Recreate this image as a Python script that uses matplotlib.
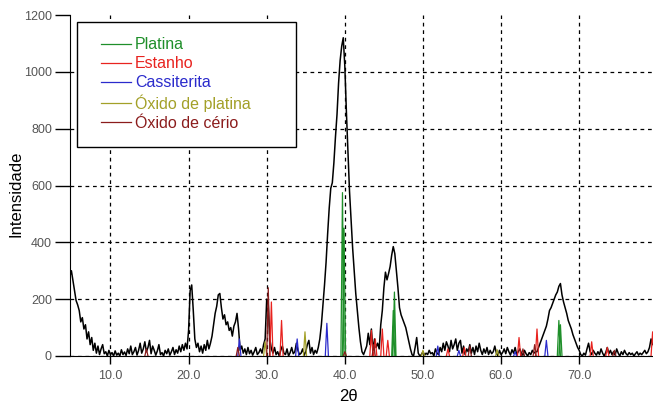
import matplotlib
matplotlib.use("Agg")
import matplotlib.pyplot as plt
import numpy as np
from matplotlib.patches import Rectangle

plt.rcParams["font.family"] = ["Liberation Sans", "DejaVu Sans"]

# measured diffractogram, 0.2 deg steps starting at 4.8
X_START = 4.8
X_STEP = 0.2
intensity = [
    280, 300, 265, 230, 195, 180,                        # 4.8 - 5.8
    160, 120, 135, 95, 110, 60, 85, 40, 65, 20,          # 6
    45, 10, 35, 5, 25, 40, 8, 15, 0, 20,                 # 8
    5, 12, 0, 18, 3, 10, 0, 22, 5, 14,                   # 10
    2, 25, 8, 35, 5, 15, 30, 3, 20, 45,                  # 12
    10, 25, 50, 15, 30, 55, 8, 35, 20, 3,                # 14
    18, 40, 5, 12, 0, 20, 8, 25, 3, 15,                  # 16
    30, 5, 22, 10, 35, 15, 40, 20, 45, 25,               # 18
    90, 230, 250, 160, 60, 30, 45, 15, 35, 10,           # 20
    40, 20, 55, 25, 45, 70, 110, 150, 175, 215,          # 22
    220, 170, 130, 145, 110, 120, 90, 100, 70, 105,      # 24
    120, 150, 95, 20, 35, 10, 25, 5, 30, 8,              # 26
    20, 3, 15, 30, 5, 12, 25, 10, 40, 60,                # 28
    200, 180, 60, 25, 10, 30, 5, 15, 0, 20,              # 30
    35, 10, 5, 25, 0, 12, 30, 8, 15, 45,                 # 32
    20, 5, 10, 25, 3, 15, 40, 55, 10, 30,                # 34
    5, 20, 10, 30, 60, 110, 180, 250, 330, 430,          # 36
    520, 590, 610, 680, 770, 850, 960, 1040, 1090, 1120, # 38
    1020, 860, 720, 580, 480, 380, 300, 220, 160, 100,   # 40
    50, 15, 5, 20, 35, 80, 40, 95, 20, 60,               # 42
    30, 45, 25, 110, 160, 240, 295, 268, 290, 315,       # 44
    355, 385, 360, 300, 240, 170, 145, 130, 115, 100,    # 46
    75, 50, 25, 5, 0, 30, 65, 10, 0, 5,                  # 48
    15, 3, 10, 5, 20, 8, 12, 0, 25, 10,                  # 50
    5, 30, 15, 45, 20, 50, 35, 15, 55, 25,               # 52
    40, 60, 20, 45, 55, 10, 35, 5, 25, 15,               # 54
    40, 10, 30, 5, 35, 15, 45, 20, 5, 25,                # 56
    10, 30, 5, 20, 8, 15, 35, 10, 0, 20,                 # 58
    5, 12, 25, 8, 30, 15, 3, 22, 10, 30,                 # 60
    5, 15, 25, 10, 3, 20, 8, 0, 12, 5,                   # 62
    20, 10, 15, 15, 30, 45, 60, 75, 90, 105,             # 64
    130, 160, 170, 185, 200, 215, 225, 245, 255, 215,    # 66
    190, 170, 150, 125, 110, 95, 75, 60, 45, 30,         # 68
    20, 5, 0, 10, 3, 25, 45, 15, 5, 20,                  # 70
    10, 3, 15, 5, 25, 10, 0, 12, 30, 8,                  # 72
    20, 5, 15, 3, 25, 10, 0, 15, 5, 20,                  # 74
    8, 3, 12, 5, 10, 0, 8, 15, 3, 10,                    # 76
    5, 12, 20, 8, 15, 30, 60, 40, 50, 35,                # 78
]

# reference patterns: peak position (2theta) and height
platina_pos = [39.7, 39.9, 46.2, 46.35, 67.4, 67.6]
platina_h = [575, 450, 160, 225, 125, 110]
estanho_pos = [30.6, 31.9, 43.4, 43.9, 44.8, 45.5, 53.2, 55.3, 62.3, 64.6, 71.6, 73.6, 79.4]
estanho_h = [190, 125, 90, 60, 95, 55, 25, 30, 65, 95, 50, 30, 85]
cassiterita_pos = [26.5, 33.9, 37.7, 51.9, 54.6, 61.8, 65.8]
cassiterita_h = [60, 60, 115, 35, 20, 15, 55]
oxido_pt_pos = [29.8, 34.9, 50.0, 59.5]
oxido_pt_h = [50, 85, 20, 22]
oxido_ce_pos = [14.6, 26.3, 30.2, 40.0, 43.7, 56.0, 62.8, 64.3, 74.5]
oxido_ce_h = [25, 30, 240, 15, 40, 35, 25, 40, 20]

labels = ["Platina", "Estanho", "Cassiterita", "Óxido de platina", "Óxido de cério"]
colors = ["#1f8f2a", "#e8231f", "#2b2bcc", "#a3a028", "#8b1c1c"]


def peak_trace(pos, h, half_width=0.2):
    xs, ys = [], []
    for p, v in zip(pos, h):
        xs += [p - half_width, p, p + half_width, np.nan]
        ys += [0, v, 0, np.nan]
    return xs, ys


def main():
    fig = plt.figure(figsize=(6.53, 4.13), dpi=100)
    ax = fig.add_axes([70 / 653, 57 / 413, 583 / 653, 341 / 413])

    x = X_START + X_STEP * np.arange(len(intensity))
    ax.plot(x, intensity, color="black", lw=1.1, zorder=3)

    phases = [
        (platina_pos, platina_h),
        (estanho_pos, estanho_h),
        (cassiterita_pos, cassiterita_h),
        (oxido_pt_pos, oxido_pt_h),
        (oxido_ce_pos, oxido_ce_h),
    ]
    handles = []
    for (pos, h), lab, col in zip(phases, labels, colors):
        px, py = peak_trace(pos, h)
        line, = ax.plot(px, py, color=col, lw=0.9, zorder=4, label=lab)
        handles.append(line)

    ax.set_xlim(4.82, 79.45)
    ax.set_ylim(0, 1200)
    ax.set_xticks([10, 20, 30, 40, 50, 60, 70])
    ax.set_xticklabels([f"{v:.1f}" for v in [10, 20, 30, 40, 50, 60, 70]])
    ax.set_yticks(range(0, 1201, 200))
    ax.tick_params(axis="y", direction="out", length=11, width=1, labelsize=9,
                   labelcolor="#555555", pad=2)
    ax.tick_params(axis="x", direction="out", length=6, width=1, labelsize=9,
                   labelcolor="#555555", pad=4)
    ax.grid(True, color="black", linestyle=(0, (3, 3)), lw=0.9, zorder=1)
    ax.get_ygridlines()[-1].set_visible(False)
    ax.spines["top"].set_visible(False)
    ax.spines["right"].set_visible(False)
    ax.set_xlabel("2θ", fontsize=12)
    ax.set_ylabel("Intensidade", fontsize=12)
    ax.xaxis.set_label_coords(0.477, -0.097)
    ax.yaxis.set_label_coords(-0.08, 0.475)

    box = Rectangle((0.012, 0.613), 0.376, 0.366, transform=ax.transAxes,
                    facecolor="white", edgecolor="black", lw=1.0, zorder=5)
    ax.add_patch(box)
    leg = ax.legend(handles=handles, loc="upper left", bbox_to_anchor=(0.042, 0.953),
                    frameon=False, fontsize=11.5, handlelength=1.9, handletextpad=0.25,
                    labelspacing=0.25, borderaxespad=0)
    leg.set_zorder(6)
    for txt, col in zip(leg.get_texts(), colors):
        txt.set_color(col)

    fig.savefig("out.png", dpi=100)
    plt.close(fig)


if __name__ == "__main__":
    main()
